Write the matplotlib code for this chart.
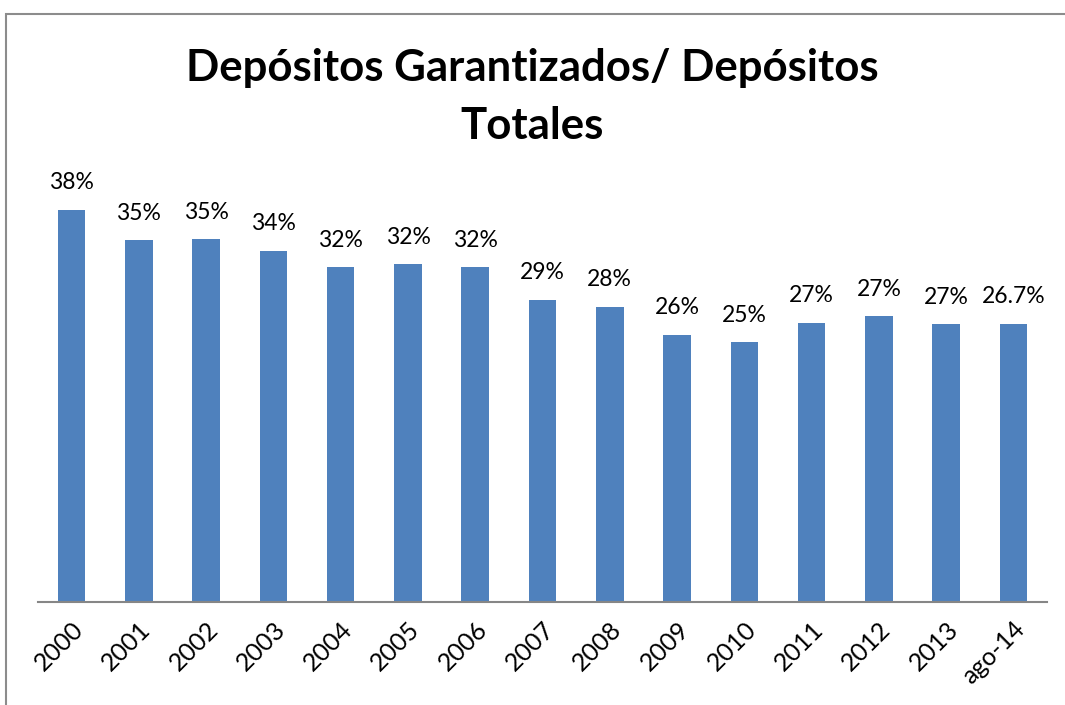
import matplotlib.pyplot as plt
from matplotlib.patches import Rectangle

categories = ["2000", "2001", "2002", "2003", "2004", "2005", "2006", "2007",
              "2008", "2009", "2010", "2011", "2012", "2013", "ago-14"]
values = [37.6, 34.7, 34.8, 33.7, 32.1, 32.4, 32.1, 29.0,
          28.3, 25.6, 24.9, 26.8, 27.4, 26.65, 26.7]
labels = ["38%", "35%", "35%", "34%", "32%", "32%", "32%", "29%",
          "28%", "26%", "25%", "27%", "27%", "27%", "26.7%"]

plt.rcParams["font.family"] = ["Lato", "DejaVu Sans"]

W, H = 1065, 705
fig = plt.figure(figsize=(W / 100, H / 100), dpi=100)

# outer chart frame (only top/left visible in the reference)
fig.patches.append(Rectangle((6 / W, -0.01), 1.02, 1 - 14.5 / H - (-0.01),
                             transform=fig.transFigure, fill=False,
                             edgecolor="#8c8c8c", lw=1.5))

ax = fig.add_axes([38 / W, (H - 602) / H, 1009 / W, 417 / H])
x = range(len(categories))
ax.bar(x, values, width=0.41, color="#4F81BD")
ax.set_xlim(-0.5, len(categories) - 0.5)
ax.set_ylim(0, 40)

for i, (v, lab) in enumerate(zip(values, labels)):
    ax.annotate(lab, (i, v), xytext=(0, 12), textcoords="offset points",
                ha="center", va="bottom", fontsize=16.5)

for s in ["top", "right", "left"]:
    ax.spines[s].set_visible(False)
ax.spines["bottom"].set_color("#868686")
ax.spines["bottom"].set_linewidth(1.5)
ax.set_yticks([])
ax.set_xticks(list(x))
ax.set_xticklabels(categories, rotation=45, ha="right", va="top",
                   rotation_mode="anchor", fontsize=18)
ax.tick_params(axis="x", length=0, pad=11)

fig.text(0.5, 1 - 68 / H, "Depósitos Garantizados/ Depósitos", ha="center",
         va="center", fontsize=31.5, fontweight="bold")
fig.text(0.5, 1 - 126 / H, "Totales", ha="center", va="center",
         fontsize=31.5, fontweight="bold")

fig.savefig("out.png", dpi=100)
